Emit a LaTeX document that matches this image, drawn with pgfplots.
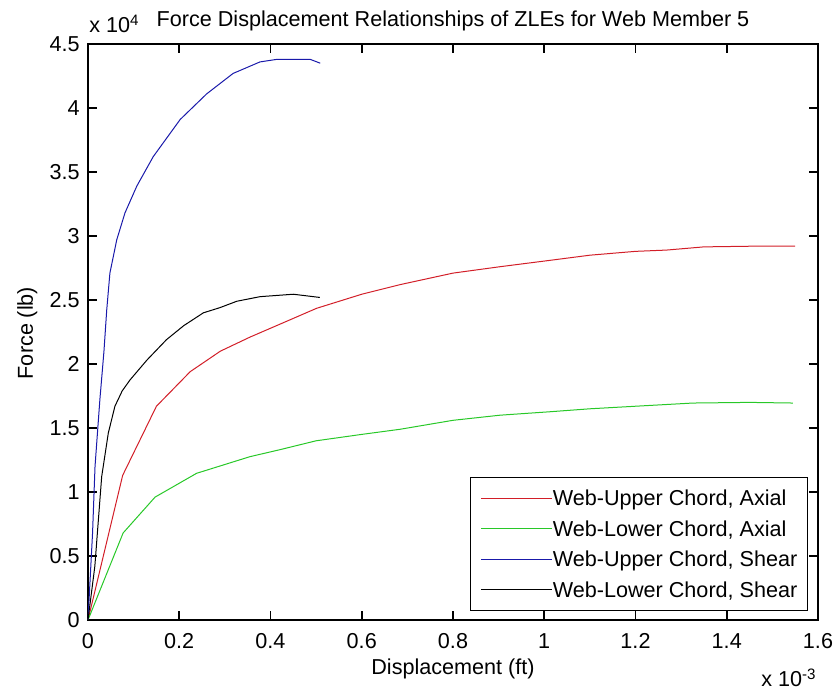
\documentclass[border=0pt]{standalone}
\usepackage{pgfplots}
\pgfplotsset{compat=1.18}
\usepackage{fontspec}
\setmainfont{Liberation Sans}
\definecolor{mred}{RGB}{210,30,40}
\definecolor{mgreen}{RGB}{40,200,40}
\definecolor{mblue}{RGB}{25,25,170}
\newcommand\mf{\fontsize{10.8}{13}\selectfont}
\begin{document}
\begin{tikzpicture}
\path[use as bounding box] (-44pt,-38pt) rectangle (374.5pt,310pt);
\begin{axis}[
  at={(0pt,0pt)}, anchor=south west,
  scale only axis, width=365pt, height=288pt,
  xmin=0, xmax=1.6, ymin=0, ymax=4.5,
  xtick={0,0.2,0.4,0.6,0.8,1,1.2,1.4,1.6},
  ytick={0,0.5,1,1.5,2,2.5,3,3.5,4,4.5},
  tickwidth=4.5pt,
  xtick align=inside, ytick align=inside,
  every major tick/.append style={draw=black, line width=0.8pt},
  axis line style={black, line width=0.6pt},
  tick label style={font=\mf},
  /pgf/number format/assume math mode=true,
  xticklabel style={anchor=north, inner sep=0pt, yshift=-6.5pt},
  yticklabel style={anchor=east, inner sep=0pt, xshift=-4pt},
  legend cell align=left,
  legend image code/.code={\draw[#1] (0pt,0pt) -- (35.5pt,0pt);},
  legend style={at={(360pt,4.5pt)}, anchor=south east, draw=black, line width=0.6pt,
    fill=white, font=\mf, inner xsep=5pt, inner ysep=2.6pt, row sep=0pt,
    nodes={inner sep=0pt, text height=11.5pt, text depth=3.8pt},
    /tikz/every even column/.append style={column sep=3pt}},
]
\addplot[mred, line width=0.5pt] coordinates {
(0,0) (0.076,1.13) (0.15,1.67) (0.224,1.94) (0.29,2.10) (0.355,2.21) (0.42,2.31)
(0.501,2.435) (0.6,2.545) (0.684,2.62) (0.8,2.71) (0.903,2.76) (1.013,2.81)
(1.1,2.85) (1.2,2.88) (1.268,2.89) (1.35,2.915) (1.45,2.92) (1.55,2.92)};
\addlegendentry{Web-Upper Chord, Axial}
\addplot[mgreen, line width=0.5pt] coordinates {
(0,0) (0.077,0.68) (0.147,0.96) (0.238,1.146) (0.355,1.276) (0.42,1.33) (0.5,1.40)
(0.6,1.45) (0.684,1.49) (0.8,1.56) (0.903,1.60) (1.013,1.627) (1.1,1.65) (1.2,1.67)
(1.326,1.695) (1.45,1.70) (1.545,1.695)};
\addlegendentry{Web-Lower Chord, Axial}
\addplot[mblue, line width=0.5pt] coordinates {
(0,0) (0.01,0.68) (0.0154,1.2) (0.026,1.72) (0.035,2.1) (0.041,2.42) (0.048,2.71)
(0.063,2.97) (0.081,3.18) (0.107,3.39) (0.143,3.62) (0.202,3.91) (0.26,4.11)
(0.318,4.27) (0.377,4.36) (0.414,4.38) (0.487,4.38) (0.509,4.35)};
\addlegendentry{Web-Upper Chord, Shear}
\addplot[black, line width=0.5pt] coordinates {
(0,0) (0.015,0.42) (0.030,1.12) (0.0445,1.46) (0.059,1.67) (0.075,1.79) (0.092,1.875) (0.129,2.03)
(0.172,2.19) (0.21,2.30) (0.253,2.40) (0.289,2.44) (0.326,2.49) (0.377,2.526) (0.45,2.545) (0.508,2.52)};
\addlegendentry{Web-Lower Chord, Shear}
\end{axis}
\node[font=\mf, anchor=base] at (182.5pt,296.5pt) {Force Displacement Relationships of ZLEs for Web Member 5};
\node[font=\mf, anchor=base west, inner sep=0pt] at (0.5pt,293.5pt) {x 10\textsuperscript{4}};
\node[font=\mf, anchor=base] at (182.5pt,-27.5pt) {Displacement (ft)};
\node[font=\mf, anchor=base east, inner sep=0pt] at (364.5pt,-33.5pt) {x 10\textsuperscript{-3}};
\node[font=\mf, anchor=base, rotate=90] at (-27.5pt,143.5pt) {Force (lb)};
\end{tikzpicture}
\end{document}
